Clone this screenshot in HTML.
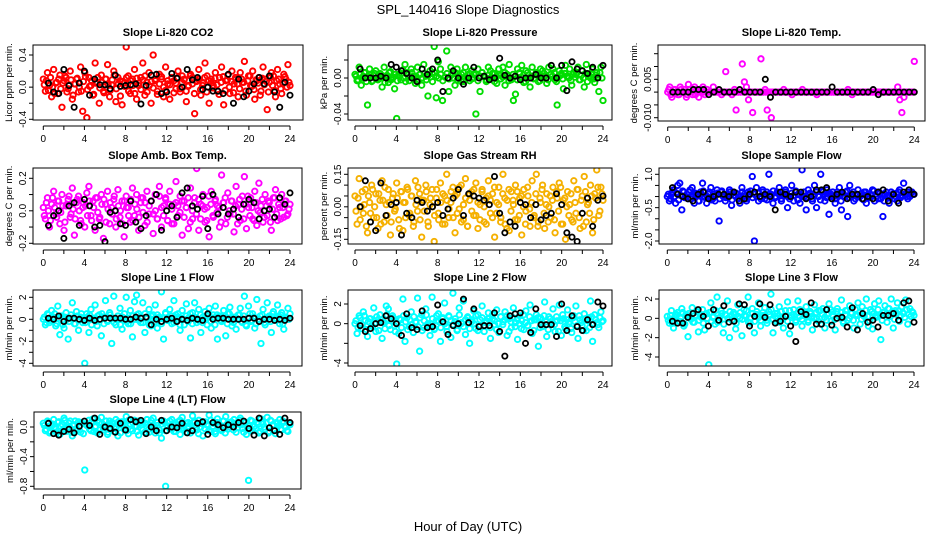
<!DOCTYPE html>
<html><head><meta charset="utf-8"><style>
html,body{margin:0;padding:0;background:#fff;}
svg{display:block;font-family:"Liberation Sans",Arial,sans-serif;}
</style></head><body>
<svg id="chart" width="936" height="540" viewBox="0 0 936 540" xmlns="http://www.w3.org/2000/svg">
<rect x="0" y="0" width="936" height="540" fill="#fff"/>
<text x="468" y="14" font-size="13" text-anchor="middle">SPL_140416  Slope Diagnostics</text>
<text x="468" y="531" font-size="13" text-anchor="middle">Hour of Day (UTC)</text>
</svg>
<script>
const xTicks = [0,2,4,6,8,10,12,14,16,18,20,22,24];
const xTickLabels = ["0","","4","","8","","12","","16","","20","","24"];

const co2Vals = [.10,-.05,.18,.02,-.12,.22,.05,-.08,.15,-.25,.08,.12,-.02,.20,-.15,.04,.10,-.06,.25,-.30,.18,-.38,.12,.02,-.10,.30,.06,-.20,.15,-.05,.10,.28,-.12,.03,.20,-.18,.12,.08,-.22,.05,.50,.14,-.08,.10,.22,-.15,.02,.12,.30,-.10,.06,.18,-.20,.40,.08,-.05,.16,.10,-.12,.25,.04,-.15,.12,.08,-.02,.20,-.06,.14,.10,-.18,.02,.16,.12,-.33,.08,.22,-.10,.05,.30,.14,-.20,.10,.02,.18,-.05,.12,.25,-.22,.08,.15,-.08,.20,.04,.10,-.12,.18,.06,.32,-.10,.14,.02,.20,-.15,.08,.12,-.05,.25,.10,-.28,.06,.18,.14,-.12,.22,.04,-.08,.16,.10,.28,.02];
const co2Core = [.03,.08,-.04,.12,.00,-.08,.06,.10,-.02,.05,.14,-.06,.02,.09,-.10,.04,.11,.00,-.05,.07,.13,-.03,.01,.08,-.09,.05,.12,-.01,.06,-.07,.10,.03,-.04,.09,.15,-.02,.04,-.11,.07,.01,.12,-.05,.08,.02,-.08,.11,.05,-.03,.09,.14,-.06,.02,.07,-.01,.10,-.09,.04,.13,.00,-.04,.08,.03,.11,-.07,.05,.12,-.02,.06,.09,-.05,.01,.14,.04,-.08,.07,.10,-.03,.02,.12,-.06,.08,.05,-.01,.11,.03,-.09,.06,.13,-.04,.09,.00,.07,-.07,.12,.04,-.02,.10,.06,-.05,.08,.14,.01,-.03,.09,.05,-.10,.11,.03,.07,-.06,.12,.02,-.04,.08,.10,-.02,.05,.13,.00,.06];
const co2Black = [.05,-.06,-.08,.22,.02,-.25,.05,.20,-.10,.10,.03,.03,-.02,.15,.01,.02,.03,.04,-.21,.02,.15,.16,-.08,-.06,.17,.11,.00,.22,.09,.12,-.03,.00,-.05,-.05,-.08,.16,-.20,.10,-.12,-.05,.04,.12,.04,.14,-.06,-.25,.06,-.10];

const presVals = [.004,-.003,.012,-.008,.002,.006,-.030,.010,-.004,.003,.008,-.002,.005,-.010,.012,.002,-.005,.007,.000,-.012,-.045,.004,-.002,.009,.015,.006,-.003,.010,.002,-.006,.012,.004,-.008,.015,.002,-.020,.008,.005,.035,-.022,.018,.010,-.025,.040,.030,-.015,.012,.005,-.008,.010,.002,-.004,.006,.012,.000,-.003,.008,.004,-.040,.010,-.015,.006,.002,-.004,.012,.008,.000,.005,-.006,.010,.003,.012,-.008,.004,.015,-.002,-.025,-.018,.010,.006,.014,-.005,.008,.003,-.010,.012,.000,.006,-.004,.010,.008,.002,-.006,.012,.004,.010,-.002,-.030,.008,.005,-.012,.014,.002,.010,-.008,.006,.004,.012,-.002,.008,-.010,.015,.004,.000,.010,-.005,.006,-.015,.012,-.025];
const presCore = [.002,-.002,.004,.000,.006,-.004,.001,.003,-.003,.005,.000,-.001,.004,.002,-.005,.003,.006,-.002,.001,.004,-.003,.002,.005,.000,-.004,.003,.001,.006,-.001,.002,-.003,.004,.000,.005,-.002,.003,.001,-.004,.006,.002,.000,.004,-.003,.001,.005,-.001,.003,.000,.006,-.002,.002,.004,-.004,.001,.003,.005,-.001,.000,.004,-.003,.002,.006,.001,-.002,.003,.000,.005,-.004,.002,.004,-.001,.001,.006,.003,-.003,.000,.004,.002,-.002,.005,.001,.003,-.004,.006,.000,.002,-.001,.004,.003,-.003,.001,.005,.000,-.002,.004,.002,.006,-.004,.001,.003,-.001,.005,.002,.000,-.003,.004,.001,.006,-.002,.003,.000,.005,-.004,.002,.004,-.001,.003,.001,.006,.000];
const presBlack = [.010,.000,.000,.000,.002,.000,.015,.012,.008,.005,.000,-.004,.010,.004,.010,.020,-.015,.000,.008,.000,-.007,.000,.012,.000,.002,-.002,.000,.022,.003,.000,.002,-.002,.000,.000,.004,.000,.000,.014,.000,.014,-.014,.018,.010,.008,.005,.012,.000,.014];

const tempVals = [.000,.002,-.002,.001,.000,-.001,.002,.000,.001,-.002,.003,.000,-.001,.002,.001,-.002,.000,.002,-.001,.001,.000,.000,.002,.000,.000,.000,-.001,.000,.008,.000,.000,-.001,.000,-.007,.000,.000,.011,.004,.002,-.003,.000,-.008,.000,.000,.000,.013,.000,.001,-.007,.000,-.010,.000,.000,.000,.000,.000,.001,.000,.000,.000,-.001,.000,.000,.000,.000,.001,.000,.000,.000,.000,.000,.000,-.001,.000,.000,.000,.000,.000,.000,.000,.000,.000,.000,.000,.000,.000,.000,.001,.000,-.001,.000,.000,.000,.000,.000,.000,.000,.000,.000,.000,.000,.000,.000,.000,.000,.000,.000,.000,.000,.000,.000,.002,-.003,-.008,-.002,.000,.000,.000,.000,.012];
const tempCore = [.001,-.001,.000,.001,.000,-.001,.001,.000,.000,-.001,.001,.000,.001,-.001,.000,.000,.001,.000,.000,.000,.000,.000,.000,.000,.000,.000,.000,.000,.000,.000,.000,.000,.001,.000,.000,.000,.000,.000,.000,.000,.000,.000,.000,.000,.000,.000,.000,.000,.000,.000,.000,.000,.000,.000,.000,.000,.000,.000,.000,.000,.000,.000,.000,.000,.000,.000,.000,.000,.000,.000,.000,.000,.000,.000,.000,.000,.000,.000,.000,.000,.000,.000,.000,.000,.000,.000,.000,.000,.000,.000,.000,.000,.000,.000,.000,.000,.000,.000,.000,.000,.000,.000,.000,.000,.000,.000,.000,.000,.000,.000,.000,.000,.000,.000,.000,.000,.000,.000,.000,.000];
const tempBlack = [.000,.000,.000,.000,.001,.001,.001,-.001,.000,.001,.000,.000,.000,.001,.000,.000,.000,.000,.005,-.002,.000,.000,.000,.000,.000,.000,.000,.000,.000,.000,.000,.002,.000,.000,.000,.000,.000,.000,.000,.001,-.001,.000,.000,.000,.000,.000,.000,.000];

const ambVals = [.02,-.05,.08,-.10,.04,.12,-.02,.06,-.08,.10,-.12,.03,.07,-.04,.14,-.15,.05,.09,-.06,.02,-.10,.11,.15,-.03,.06,-.12,.08,-.05,.10,-.17,.04,.12,-.08,.02,.07,-.10,.13,-.04,.06,-.16,.09,.02,-.07,.14,-.03,.10,-.12,.05,.08,-.09,.12,-.02,.06,-.14,.10,-.05,.15,-.10,.03,.08,-.06,.12,-.08,.04,.18,-.03,.09,-.15,.06,.02,-.11,.14,-.05,.08,.26,-.12,.04,.10,-.07,.02,-.16,.12,-.04,.07,.03,-.10,.22,.05,-.08,.11,-.02,.06,-.13,.15,.04,-.06,.09,.21,-.11,.02,.08,-.05,.12,-.09,.17,.03,-.07,.10,-.03,.05,-.12,.08,.13,-.06,.02,.10,-.04,.06,-.02,.04];
const ambCore = [-.03,.05,.00,-.06,.08,.02,-.04,.06,-.01,.03,-.07,.04,.09,-.02,.01,-.05,.07,.00,-.08,.05,.03,-.03,.06,-.06,.02,.08,-.01,-.04,.04,.07,-.07,.01,.05,-.02,.09,-.05,.03,.00,-.08,.06,.02,-.03,.07,-.06,.04,.01,-.04,.08,-.01,.05,-.07,.03,.06,-.02,.00,-.05,.09,.02,-.03,.07,-.06,.04,.01,-.08,.05,.03,-.01,.06,-.04,.02,.08,-.07,.00,.05,-.02,.07,-.05,.03,.01,-.06,.09,.04,-.03,.06,-.01,.02,-.07,.05,.08,-.04,.00,.06,-.02,.03,-.08,.07,.01,-.05,.04,.09,-.03,.02,-.06,.05,.00,-.01,.07,-.04,.03,.06,-.07,.01,.08,-.02,.04,-.05,.02,.06,-.03,.01];
const ambBlack = [-.09,-.03,.00,-.17,.03,.05,-.09,.07,.03,-.10,-.09,-.19,-.01,.00,-.08,-.09,.06,-.07,-.11,-.03,.06,.10,-.12,.00,.03,-.04,.11,.14,.03,.01,.09,-.11,.10,-.02,.02,-.02,.01,-.04,.04,.07,.05,-.05,.00,.01,-.04,.08,.04,.11];

const rhVals = [.05,-.08,.13,.00,-.03,.08,-.12,.02,.10,-.05,.06,-.10,.03,.12,-.07,.01,.08,-.13,.04,-.02,.11,-.06,.07,-.11,.02,.09,-.04,.05,-.09,.12,-.02,.06,-.14,.03,.10,-.07,.01,.08,-.16,.04,-.03,.11,-.08,.05,.15,-.05,.02,.09,-.12,.06,-.01,.10,-.06,.13,-.09,.03,.07,-.04,.11,-.10,.01,.08,-.07,.04,.12,-.03,.06,-.14,.02,.09,-.05,.15,-.08,.03,-.11,.07,.01,.10,-.06,.04,-.13,.08,-.02,.05,-.09,.12,-.04,.15,-.07,.02,.10,-.10,.06,.00,-.05,.09,-.12,.04,.11,-.08,.03,-.15,.07,.01,-.06,.12,-.03,.08,-.10,.05,.14,-.07,.02,.10,-.12,.06,.17,-.04,.09,.03];
const rhCore = [-.02,.04,-.06,.07,.01,-.09,.05,-.03,.08,.00,-.05,.06,-.08,.03,.09,-.04,.02,-.07,.06,-.01,.04,-.10,.07,.02,-.05,.08,-.03,.05,-.07,.01,.09,-.06,.03,-.02,.07,-.09,.04,.00,-.04,.08,-.06,.02,.06,-.08,.03,-.01,.07,-.05,.05,-.03,.09,-.07,.01,.04,-.09,.06,-.02,.08,-.04,.02,-.06,.07,.00,-.08,.05,.03,-.05,.09,-.03,.01,-.07,.06,.04,-.10,.08,-.02,.03,-.06,.07,-.04,.05,.00,-.08,.09,-.01,.02,-.05,.06,-.09,.04,.08,-.03,.01,-.07,.05,.03,-.06,.07,-.02,.09,-.08,.04,.00,-.04,.06,-.07,.02,.08,-.05,.03,-.09,.07,.01,-.03,.05,-.06,.04,.09,-.02,.06];
const rhBlack = [.00,.12,-.07,-.11,.11,-.04,.01,.02,-.13,-.03,-.05,.03,.02,-.02,.00,.02,-.04,-.01,.04,.08,-.04,.06,.05,.04,.03,.01,.14,-.03,-.12,-.07,-.09,.02,.01,-.05,.01,-.06,-.04,-.03,.06,.01,-.12,-.14,-.16,-.03,.04,-.09,.03,.05];

const sampleVals = [.0,-.2,.1,.3,-.3,.5,.6,-.6,.2,.0,-.1,.3,.4,-.3,.1,-.2,.2,.6,.0,-.3,.1,.4,-.1,-.2,.3,-1.1,.2,.0,-.2,.1,.3,-.4,.2,.0,.1,-.3,.4,.0,-.1,.2,.1,.9,-2.0,.4,-.2,.0,.3,-.1,.2,1.0,.1,-.3,.0,.2,.4,-.1,.1,.3,-.5,.0,.5,-.2,.2,.1,-.3,1.2,.0,-.6,.3,.1,-.2,.5,-.5,.0,1.0,.2,-.2,.3,-.8,.1,.0,-.3,.2,.4,-.6,.0,.2,-.9,.5,.0,-.2,.1,.3,.0,-.1,.2,-.3,.0,.1,.3,-.2,.0,.2,-.1,-.9,.1,.0,-.3,.2,.1,.0,-.2,.3,.0,.6,.1,-.1,.0,.2,.1];
const sampleCore = [.1,-.1,.2,.0,.15,-.15,.05,.25,-.05,.1,.2,-.1,.0,.15,.05,-.2,.1,.25,-.05,.0,.2,-.15,.1,.05,.15,-.1,.25,.0,-.05,.1,.2,-.15,.05,.15,-.1,.0,.2,.1,-.2,.05,.25,-.05,.1,.0,.15,-.1,.2,.05,-.15,.1,.0,.25,-.05,.15,.1,-.2,.05,.2,.0,-.1,.15,.05,.25,-.15,.1,.0,.2,-.05,.1,.15,-.1,.05,.2,.0,-.15,.25,.1,-.05,.15,.0,.2,-.1,.05,.1,-.2,.15,.0,.25,-.05,.1,.2,-.1,.05,.0,.15,-.15,.2,.1,-.05,.05,.25,.0,-.1,.15,.1,-.2,.2,.05,.0,.1,-.1,.15,.2,-.05,.05,.1,.0,.2,.15,.1];
const sampleBlack = [.4,.1,.0,-.1,-.2,.1,.2,-.1,.0,.1,.1,.0,.2,-.2,-.1,.1,.2,.0,.1,.0,-.6,.2,.1,.0,.2,.2,-.1,.0,.3,.3,.4,-.1,.1,.2,-.1,.1,.1,-.1,.0,-.1,.2,.3,-.2,.1,-.3,.2,.3,.1];

const line1Vals = [.0,-.5,.5,-.3,.8,.2,-.6,1.2,-1.4,.3,-.8,.6,-1.8,.1,1.5,-.4,.7,-1.0,.2,-.3,-4.0,.5,-1.2,.9,.0,1.3,-.6,.4,-1.5,.2,1.7,-.2,.6,-2.2,2.1,-.5,.3,1.0,-.9,.0,2.0,-.4,.8,-1.6,1.6,2.2,.5,-.3,1.5,-1.2,.2,.9,-.6,.4,1.3,-.8,.1,2.5,-1.8,.6,.0,.9,-.4,1.7,-.2,.5,-1.0,.8,-.5,1.4,.1,-1.7,.6,1.5,-.3,.9,-1.2,.2,.7,-.5,1.0,-.8,.4,1.2,-1.8,.3,-.2,.8,-1.5,.5,1.1,-.6,.2,-.9,.4,1.0,-.3,2.1,-.6,1.2,-.2,.5,-.8,1.8,.0,-2.2,.9,-.5,1.5,.3,-1.2,.7,.1,1.3,-.4,.6,-.9,.2,1.0,.5];
const line1Core = [.2,-.3,.4,-.1,.0,.5,-.4,.1,.3,-.5,.2,.0,-.2,.4,.1,-.4,.3,-.1,.5,.0,-.3,.2,.4,-.5,.1,-.2,.3,.0,.5,-.4,.2,-.1,.4,.1,-.3,.0,.3,-.5,.2,.5,-.2,.1,-.4,.3,.0,.4,-.1,.2,-.3,.5,.1,-.5,.3,.0,-.2,.4,.2,-.4,.1,.5,-.1,.0,.3,-.3,.4,.2,-.5,.1,.0,.3,-.2,.5,-.4,.2,.1,-.1,.4,-.3,.0,.3,.5,-.2,.1,-.5,.4,.2,-.1,.0,.3,-.4,.5,.1,-.3,.2,.0,.4,-.2,.3,-.5,.1,.5,-.1,.2,-.4,.0,.3,.4,-.3,.1,.2,-.2,.5,.0,-.1,.3,.4,-.4,.2,.1,.0];
const line1Black = [.1,.0,.3,-.2,.1,.1,.0,-.1,.1,-.1,.0,.1,.1,.1,.1,.0,.0,.2,.1,.2,-.5,.0,-.2,.0,.1,-.2,.0,-.1,.1,.0,-.1,.5,.0,.1,.1,.0,.0,.0,.0,.1,.1,-.2,.0,.0,-.1,.0,-.1,.1];

const line2Vals = [.0,-1.0,.8,-.5,1.2,.3,-1.3,.5,-.2,1.6,-.8,.4,.9,-1.5,.1,1.8,1.5,-.6,.8,-.2,-4.1,-1.0,.4,2.5,-1.8,.6,-.3,1.2,-.9,.2,2.6,-2.8,.9,-.4,1.5,.0,-1.2,2.7,-.6,.3,1.0,-1.8,.5,2.1,-.3,.8,-1.4,3.1,.2,-.7,1.6,.0,2.3,-1.1,.6,-2.0,.4,1.3,-.5,.9,-.2,1.8,-.8,.3,1.1,-1.5,.5,-.1,1.4,-.9,.7,.2,1.2,-1.2,.5,-.4,1.6,.1,-1.6,.8,.3,-.6,1.3,-.2,1.9,-1.0,.4,.9,-2.3,.6,-.3,2.2,-1.3,.7,.0,1.5,-.8,.3,1.9,-1.2,.5,-.5,1.4,.2,-.9,.8,1.8,-1.5,.4,-.2,1.0,-.7,.6,2.3,-1.8,.9,.1,-.4,1.2,.3];
const line2Core = [.3,-.4,.6,-.1,.8,-.6,.2,.5,-.3,.0,.7,-.7,.4,.1,-.5,.9,-.2,.3,.6,-.8,.0,.5,-.4,.8,.2,-.6,.4,-.1,.7,.1,-.3,.6,-.7,.3,.9,-.2,.0,.5,-.5,.8,.2,-.4,.6,.0,-.8,.7,.3,-.1,.5,-.6,.9,.1,-.3,.4,.7,-.5,.2,.0,.8,-.7,.4,.6,-.2,.1,.5,-.4,.9,.3,-.6,.0,.7,-.1,.4,.8,-.8,.2,.6,-.3,.5,.0,-.5,.9,.1,-.2,.7,.3,-.7,.4,.6,-.4,.0,.8,.2,-.6,.5,.1,-.1,.7,-.8,.3,.9,-.3,.4,.0,-.5,.6,.2,-.2,.8,.1,-.7,.5,.3,-.4,.7,.0,.4,-.1,.6,.2];
const line2Black = [-.2,-.8,-.5,.0,.1,.8,.5,.0,-1.2,1.0,-.4,-.6,1.3,-.4,-.3,1.9,.2,-1.1,-.2,.0,2.5,.1,1.5,-.3,-.2,-.2,1.1,-.8,-3.3,.8,1.0,1.1,-2.0,-.9,1.5,-.1,-.1,-.1,-1.3,2.0,-.7,.8,-.3,-.7,.4,-.1,2.2,1.8];

const line3Vals = [.2,-.5,.8,-1.0,.3,.6,-.3,1.0,-.8,.4,-1.9,.2,1.1,-.4,.7,-1.4,.3,.9,-1.2,.5,-4.8,1.6,.1,-.6,2.2,-.2,.8,-1.5,.4,1.8,-2.0,.3,.6,-1.1,1.4,.0,-1.8,.9,.2,2.2,-.5,1.0,-1.5,.4,1.6,-.8,.3,1.1,-.2,.7,2.5,-1.5,.5,-.4,1.2,.0,-1.0,.8,1.7,-1.6,.3,.9,-.4,1.8,.2,-.8,.6,1.2,-.2,.5,-1.2,1.4,.0,.8,-.6,1.0,-1.0,.4,1.5,-.3,.7,-1.2,1.0,.2,1.9,-.5,.8,-.2,1.3,.6,-1.0,.4,1.6,-.6,1.2,.2,2.0,-.8,.9,-1.1,1.5,.3,1.8,-2.2,.6,1.3,-.4,1.0,2.0,-1.0,.8,1.6,-.3,1.2,.5,1.9,-.6,1.0,.7,.3];
const line3Core = [-.2,.3,-.5,.1,.4,-.3,.0,.6,-.6,.2,.5,-.1,-.4,.3,.7,-.2,.1,-.5,.4,.0,.6,-.3,.2,.8,-.4,.1,.5,-.6,.3,.0,.7,-.2,.4,-.5,.2,.6,-.1,.3,.8,-.4,.0,.5,-.3,.7,.1,-.2,.6,.3,-.5,.4,.9,-.1,.2,.5,-.4,.7,.0,.3,-.3,.8,.1,.4,-.2,.6,.9,-.1,.3,.5,-.4,.7,.2,.0,.6,-.3,.8,.4,.1,-.2,.5,.9,.3,-.1,.7,.2,.6,-.3,.4,.8,.0,.5,-.2,.9,.3,.6,-.1,.4,.8,.2,-.3,.7,.5,.1,.9,.3,-.2,.6,.4,1.0,.2,.7,-.1,.5,.8,.3,.6,.1,.9,.4,.2,.6];
const line3Black = [-.3,-.5,-.5,.1,.5,.9,.2,-.8,.9,-.2,1.3,-.4,-.3,1.5,1.4,-.8,.2,1.5,.1,1.4,-.5,-.3,.2,-.8,-2.4,.7,.4,1.6,-.6,-.6,.9,-.7,.0,.1,-.9,1.1,-1.2,.5,-.4,-.2,-.9,.3,.3,.5,-.2,1.6,1.8,-.4];

const line4Vals = [.05,-.05,.08,-.08,.02,.10,-.03,.06,-.10,.04,.12,-.06,.00,.08,-.12,.03,-.02,.07,-.07,.05,-.58,.02,.09,-.05,.11,.00,-.08,.06,.13,-.04,.02,-.10,.08,.05,-.06,.10,-.12,.03,.07,-.02,.14,-.09,.04,-.05,.09,.01,-.11,.06,.03,-.07,.10,-.03,.05,.12,-.08,.02,-.04,-.15,.08,-.80,.06,-.02,.10,-.06,.04,.07,-.10,.13,-.03,.05,.01,-.08,.15,.06,-.04,.09,.00,-.12,.07,.03,.16,-.06,.05,-.09,.11,.02,-.05,.08,.14,-.03,.06,.03,.10,-.07,.04,.12,-.02,.07,-.10,-.72,.09,-.05,.01,.06,-.08,.11,.04,-.03,.13,-.06,.08,.02,-.09,.05,.10,-.04,.07,.00,-.06,.03];
const line4Core = [.02,-.03,.06,-.06,.04,.00,-.08,.07,.01,-.04,.09,-.02,.05,-.07,.03,.08,-.05,.00,.06,-.09,.04,.02,-.03,.07,-.06,.01,.09,-.04,.05,-.01,.08,-.07,.03,.06,-.02,.00,.07,-.08,.04,.02,-.05,.09,-.03,.06,.01,-.06,.08,.03,-.04,.05,.00,-.07,.09,.02,-.02,.06,-.08,.04,.07,-.05,.01,.08,-.03,.05,-.06,.03,.09,-.01,.02,-.07,.06,.04,-.04,.08,.00,-.09,.05,.07,-.02,.03,-.05,.09,.01,-.06,.06,.02,-.03,.08,-.08,.04,.00,.07,-.04,.05,-.01,.09,.03,-.07,.06,.02,-.05,.08,.01,-.02,.04,-.06,.07,.00,.05,-.08,.09,.03,-.04,.06,.02,-.03,.08,.01,-.05,.04];
const line4Black = [.05,-.09,-.11,-.06,-.03,-.08,.01,.08,.02,.12,-.10,.00,-.02,-.07,.05,-.04,.10,.07,.09,-.09,.00,-.05,.09,-.05,.00,-.01,.05,-.08,-.05,.05,.07,-.10,.06,.03,-.01,.03,.00,.06,.08,-.02,-.11,.12,-.12,-.01,-.05,-.10,.12,.06];

const panelTitles = ["Slope Li-820 CO2","Slope Li-820 Pressure","Slope Li-820 Temp.","Slope Amb. Box Temp.","Slope Gas Stream RH","Slope Sample Flow","Slope Line 1 Flow","Slope Line 2 Flow","Slope Line 3 Flow","Slope Line 4 (LT) Flow"];
const yTitles = ["Licor ppm per min.","kPa per min.","degrees C per min.","degrees C per min.","percent per min.","ml/min per min.","ml/min per min.","ml/min per min.","ml/min per min.","ml/min per min."];
const yTickSets = [[-0.4,-0.2,0,0.2,0.4],[-0.04,-0.02,0,0.02],[-0.01,-0.005,0,0.005,0.01,0.015],[-0.2,-0.1,0,0.1,0.2],[-0.15,-0.1,-0.05,0,0.05,0.1,0.15],[-2,-1.5,-1,-0.5,0,0.5,1],[-4,-3,-2,-1,0,1,2],[-4,-2,0,2],[-4,-2,0,2],[-0.8,-0.6,-0.4,-0.2,0]];
const yTickLabelSets = [["-0.4","","0.0","","0.4"],["-0.04","","0.00",""],["-0.010","","","0.005","",""],["-0.2","","0.0","","0.2"],["-0.15","","","0.00","","","0.15"],["-2.0","","","-0.5","","","1.0"],["-4","","-2","","0","","2"],["-4","","0","2"],["-4","-2","0","2"],["-0.8","","-0.4","","0.0"]];
const seriesColored = [co2Vals,presVals,tempVals,ambVals,rhVals,sampleVals,line1Vals,line2Vals,line3Vals,line4Vals];
const seriesCore = [co2Core,presCore,tempCore,ambCore,rhCore,sampleCore,line1Core,line2Core,line3Core,line4Core];
const seriesBlack = [co2Black,presBlack,tempBlack,ambBlack,rhBlack,sampleBlack,line1Black,line2Black,line3Black,line4Black];

const layout = [
 {l:33,t:45,r:303,b:120,x0:43.3,x24:290,v1:0.4,p1:55,v2:-0.4,p2:119.3,col:"#ff0000"},
 {l:348,t:45,r:612,b:120,x0:355,x24:603,v1:0.02,p1:60,v2:-0.04,p2:114,col:"#00dd00"},
 {l:658,t:45,r:925,b:121,x0:667.7,x24:914.3,v1:0.005,p1:79.3,v2:-0.01,p2:117.7,col:"#ff00ff"},
 {l:33,t:168,r:302,b:244,x0:43.3,x24:290,v1:0.2,p1:178.3,v2:-0.2,p2:243.3,col:"#ff00ff"},
 {l:348,t:168,r:612,b:244,x0:355,x24:603,v1:0.15,p1:174.3,v2:-0.15,p2:239.3,col:"#f5b000"},
 {l:659,t:168,r:924,b:244,x0:667.3,x24:914,v1:1,p1:174.3,v2:-2,p2:241,col:"#0000ff"},
 {l:33,t:290,r:302,b:366,x0:43.3,x24:290,v1:2,p1:297.3,v2:-4,p2:363.3,col:"#00ffff"},
 {l:348,t:290,r:612,b:366,x0:355,x24:603,v1:2,p1:304,v2:-4,p2:363,col:"#00ffff"},
 {l:659,t:290,r:924,b:366,x0:667.3,x24:914,v1:2,p1:299,v2:-4,p2:357,col:"#00ffff"},
 {l:34,t:412,r:301,b:489,x0:43.3,x24:290,v1:0,p1:427,v2:-0.8,p2:486.3,col:"#00ffff"}
];

const NS = "http://www.w3.org/2000/svg";
const svg = document.getElementById("chart");
function mk(tag, attrs, parent){const e=document.createElementNS(NS,tag);for(const k in attrs)e.setAttribute(k,attrs[k]);(parent||svg).appendChild(e);return e;}

layout.forEach((L,pi)=>{
  const slug = panelTitles[pi].toLowerCase().replace(/[^a-z0-9]+/g,'-').replace(/^-|-$/g,'');
  const g = mk("g",{});
  
  
  const xs = h => L.x0 + (h/24)*(L.x24-L.x0);
  const ys = v => L.p1 + (v-L.v1)*(L.p2-L.p1)/(L.v2-L.v1);
  const tt = mk("text",{x:(L.l+L.r)/2,y:L.t-9,"font-size":11,"font-weight":"bold","text-anchor":"middle"},g);
  tt.textContent = panelTitles[pi];
  
  
  const cp = mk("clipPath",{id:"clip"+pi},g);
  mk("rect",{x:L.l,y:L.t,width:L.r-L.l,height:L.b-L.t},cp);
  const pts = mk("g",{"clip-path":"url(#clip"+pi+")"},g);
  
  
  const cv = seriesColored[pi];
  cv.forEach((v,i)=>{
    const c = mk("circle",{cx:xs(i*24/(cv.length-1)),cy:ys(v),r:2.7,fill:"none",stroke:L.col,"stroke-width":1.9},pts);
    
    
  });
  const cc = seriesCore[pi];
  cc.forEach((v,i)=>{
    const c = mk("circle",{cx:xs(0.1+i*23.8/(cc.length-1)),cy:ys(v),r:2.7,fill:"none",stroke:L.col,"stroke-width":1.9},pts);
    
    
  });
  const bv = seriesBlack[pi];
  bv.forEach((v,i)=>{
    const c = mk("circle",{cx:xs(0.5+i*23.5/(bv.length-1)),cy:ys(v),r:2.6,fill:"none",stroke:"#000","stroke-width":1.8},pts);
    
    
  });
  const bx = mk("rect",{x:L.l,y:L.t,width:L.r-L.l,height:L.b-L.t,fill:"none",stroke:"#000","stroke-width":1},g);
  
  
  const ay = L.b+6;
  const xa = mk("g",{},g);
  
  
  mk("line",{x1:xs(0),x2:xs(24),y1:ay,y2:ay,stroke:"#000"},xa);
  xTicks.forEach((t,i)=>{
    mk("line",{x1:xs(t),x2:xs(t),y1:ay,y2:ay+4,stroke:"#000"},xa);
    if(xTickLabels[i]){const tx=mk("text",{x:xs(t),y:ay+16,"font-size":10,"text-anchor":"middle"},xa);tx.textContent=xTickLabels[i];}
  });
  const ya = mk("g",{},g);
  
  
  const ticks = yTickSets[pi], labs = yTickLabelSets[pi];
  mk("line",{x1:L.l,x2:L.l,y1:ys(Math.min(...ticks)),y2:ys(Math.max(...ticks)),stroke:"#000"},ya);
  ticks.forEach((t,i)=>{
    mk("line",{x1:L.l-4,x2:L.l,y1:ys(t),y2:ys(t),stroke:"#000"},ya);
    if(labs[i]){const tx=mk("text",{x:0,y:0,"font-size":10,"text-anchor":"middle",transform:`translate(${L.l-7},${ys(t)}) rotate(-90)`},ya);tx.textContent=labs[i];}
  });
  const yt = mk("text",{x:0,y:0,"font-size":9.5,"text-anchor":"middle",transform:`translate(${L.l-21},${(L.t+L.b)/2}) rotate(-90)`},g);
  yt.textContent = yTitles[pi];
  
  
});
</script>
</body></html>
